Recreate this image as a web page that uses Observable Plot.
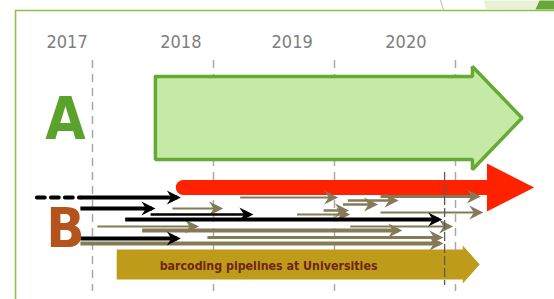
<!DOCTYPE html>
<html>
<head>
<meta charset="utf-8">
<script src="https://cdn.jsdelivr.net/npm/d3@7"></script>
<script src="https://cdn.jsdelivr.net/npm/@observablehq/plot@0.6"></script>
<style>
  html, body { margin: 0; padding: 0; background: #fff; }
  #chart svg { display: block; background: #fff; }
</style>
</head>
<body>
<div id="chart"></div>
<script>
// ---- time axis (years) ----
const years = [2017, 2018, 2019, 2020];              // dashed year markers
const yearLabels = ["2017", "2018", "2019", "2020"];
const yearLabelAt = [2016.79, 2017.73, 2018.65, 2019.59];
const todayMarker = [2019.91];                        // darker dashed line

// ---- block arrows: start, head base, tip (years); lane (row), half body, half head ----
const trackA = {start: 2017.52, base: 2020.14, tip: 2020.55, lane: 117.5, body: 41.5, head: 51.5};
const trackRed = {start: 2017.75, base: 2020.26, tip: 2020.65, lane: 187, body: 7.5, head: 24};
const trackGold = {start: 2017.20, base: 2020.06, tip: 2020.20, lane: 264, body: 15, head: 19};
const goldLabel = "barcoding pipelines at Universities";

// ---- B projects: black arrows ----
const blackStart = [2016.90, 2016.90, 2017.48, 2017.27, 2016.90];
const blackEnd   = [2017.73, 2017.52, 2018.33, 2019.89, 2017.73];
const blackLane  = [197, 208, 214, 219, 238];
const blackWidth = [3.8, 3.8, 2.4, 3.8, 3.8];
const blackLead  = [2016.54, 2016.90];   // dashed lead-in on first arrow

// ---- B projects: grey arrows ----
const greyStart = [2018.22, 2017.66, 2019.07, 2019.11, 2019.38, 2018.91, 2018.69, 2019.38, 2017.04, 2017.41, 2019.13, 2017.95, 2016.90];
const greyEnd   = [2019.03, 2018.08, 2019.36, 2019.53, 2020.21, 2019.12, 2019.13, 2020.23, 2017.88, 2019.56, 2019.98, 2019.90, 2019.90];
const greyLane  = [197, 208, 204, 200, 196, 210, 214, 212, 226, 230, 226, 237, 243];
const greyWidth = [2, 2, 2.5, 2.5, 3, 2.5, 2, 2, 2, 4, 2, 3, 4];

// ---- build tables ----
const blacks = blackStart.map((s, i) => ({s, e: blackEnd[i], lane: blackLane[i], w: blackWidth[i]}));
const greys = greyStart.map((s, i) => ({s, e: greyEnd[i], lane: greyLane[i], w: greyWidth[i]}));
function poly(a) {
  return [
    {x: a.start, y: a.lane - a.body}, {x: a.base, y: a.lane - a.body},
    {x: a.base, y: a.lane - a.head}, {x: a.tip, y: a.lane},
    {x: a.base, y: a.lane + a.head}, {x: a.base, y: a.lane + a.body},
    {x: a.start, y: a.lane + a.body}, {x: a.start, y: a.lane - a.body}
  ];
}
function headPoly(a) {
  return [
    {x: a.base, y: a.lane - a.head}, {x: a.tip, y: a.lane},
    {x: a.base, y: a.lane + a.head}, {x: a.base, y: a.lane - a.head}
  ];
}
const stealth = {
  draw(ctx, size) {
    const k = Math.sqrt(size / Math.PI);
    ctx.moveTo(0, 0);
    ctx.lineTo(-14 * k, -7 * k);
    ctx.lineTo(-9.5 * k, 0);
    ctx.lineTo(-14 * k, 7 * k);
    ctx.closePath();
  }
};

const xDomain = [2016.2397, 2020.8182];
const frameLeft = 2016.364;
const font = "'Liberation Sans Narrow', 'DejaVu Sans Condensed', 'Liberation Sans', sans-serif";

// decoration at top right corner
const decoLight = [{x: 2020.231, y: 0}, {x: 2020.694, y: 0}, {x: 2020.661, y: 9}, {x: 2020.256, y: 9}, {x: 2020.231, y: 0}];
const decoDark = [{x: 2020.694, y: 0}, {x: 2020.818, y: 0}, {x: 2020.818, y: 9}, {x: 2020.661, y: 9}, {x: 2020.694, y: 0}];
const decoCurve = [{x: 2019.876, y: 0}, {x: 2019.901, y: 9}];

const chart = Plot.plot({
  width: 554,
  height: 299,
  margin: 0,
  x: {domain: xDomain, axis: null},
  y: {domain: [0, 299], range: [0, 299], axis: null},
  marks: [
    // corner decoration + frame
    Plot.line(decoLight, {x: "x", y: "y", fill: "#e8f1d6", stroke: "none"}),
    Plot.line(decoDark, {x: "x", y: "y", fill: "#6aa53a", stroke: "none"}),
    Plot.line(decoCurve, {x: "x", y: "y", stroke: "#bbbbbb", strokeWidth: 1}),
    Plot.ruleY([10], {x1: frameLeft, x2: xDomain[1], stroke: "#8fc04a", strokeWidth: 1.6}),
    Plot.ruleX([frameLeft], {y1: 10, y2: 299, stroke: "#8fc04a", strokeWidth: 1.6}),
    // year markers
    Plot.ruleX(years, {y1: 60, y2: 291, stroke: "#a8a8a8", strokeWidth: 1.5, strokeDasharray: "8,6"}),
    Plot.text(yearLabels, {x: (d, i) => yearLabelAt[i], y: 42, text: d => d, fill: "#7e7e7e",
      fontSize: 18, fontFamily: font}),
    // A track
    Plot.line(poly(trackA), {x: "x", y: "y", fill: "#c4eaa5", stroke: "#66aa33", strokeWidth: 3.5, strokeLinejoin: "miter"}),
    Plot.text(["A"], {x: 2016.777, y: 120, fill: "#5ba22c", fontSize: 58, fontWeight: "bold", fontFamily: font}),
    // red track
    Plot.link([trackRed], {x1: "start", x2: d => d.base + 0.06, y1: "lane", y2: "lane", stroke: "#ff2200", strokeWidth: 15, strokeLinecap: "round"}),
    Plot.line(headPoly(trackRed), {x: "x", y: "y", fill: "#ff2200", stroke: "none"}),
    // gold track
    Plot.line(poly(trackGold), {x: "x", y: "y", fill: "#bf9b1a", stroke: "none"}),
    Plot.text([goldLabel], {x: 2018.455, y: 266, text: d => d, fill: "#6e2612", fontSize: 12.3, fontWeight: "bold", fontFamily: font}),
    // grey arrows
    Plot.link(greys, {x1: "s", x2: d => d.e - 0.03, y1: "lane", y2: "lane", stroke: "#857a58", strokeWidth: "w"}),
    Plot.dot(greys, {x: "e", y: "lane", r: 1, symbol: stealth, fill: "#857a58", stroke: "none"}),
    // black arrows
    Plot.link([blackLead], {x1: d => d[0], x2: d => d[1], y1: blackLane[0], y2: blackLane[0], stroke: "#000", strokeWidth: 3.8, strokeDasharray: "8,6", strokeLinecap: "round"}),
    Plot.link(blacks, {x1: "s", x2: d => d.e - 0.03, y1: "lane", y2: "lane", stroke: "#000", strokeWidth: "w"}),
    Plot.dot(blacks, {x: "e", y: "lane", r: 1, symbol: stealth, fill: "#000", stroke: "none"}),
    Plot.text(["B"], {x: 2016.777, y: 229, fill: "#b4531c", fontSize: 56, fontWeight: "bold", fontFamily: font}),
    // darker dashed marker
    Plot.ruleX(todayMarker, {y1: 172, y2: 285, stroke: "#5a5a5a", strokeWidth: 1.3, strokeDasharray: "9,3"})
  ]
});
document.getElementById("chart").appendChild(chart);
</script>
</body>
</html>
